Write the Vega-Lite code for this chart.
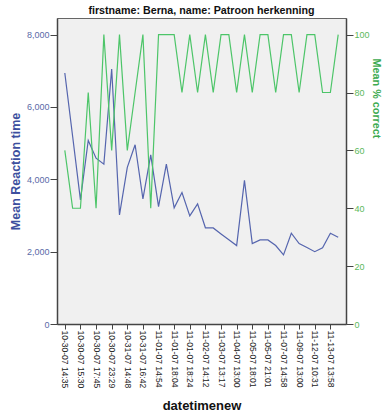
{
  "$schema": "https://vega.github.io/schema/vega-lite/v6.json",
  "autosize": "none",
  "width": 289,
  "height": 306,
  "padding": {"left": 57, "top": 18, "right": 36, "bottom": 94},
  "background": "white",
  "title": {"text": "firstname: Berna, name: Patroon herkenning", "font": "Liberation Sans", "fontSize": 10.7, "fontWeight": "bold", "color": "#111111", "offset": 1},
  "config": {
    "view": {"fill": "#f0f0f0", "stroke": "#666666", "strokeWidth": 1},
    "axis": {"grid": false, "labelFont": "Liberation Sans", "titleFont": "Liberation Sans", "titleFontWeight": "bold", "domainColor": "#444444", "domainWidth": 1.5, "tickColor": "#444444"}
  },
  "data": {"values": [
    {"t": "10-30-07 14:35", "rt": 6940, "pct": 60},
    {"t": "10-30-07 15:02", "rt": 5190, "pct": 40},
    {"t": "10-30-07 15:30", "rt": 3430, "pct": 40},
    {"t": "10-30-07 16:40", "rt": 5075, "pct": 80},
    {"t": "10-30-07 17:45", "rt": 4585, "pct": 40},
    {"t": "10-30-07 21:10", "rt": 4420, "pct": 100},
    {"t": "10-30-07 23:29", "rt": 7050, "pct": 60},
    {"t": "10-31-07 10:15", "rt": 3017, "pct": 100},
    {"t": "10-31-07 14:48", "rt": 4330, "pct": 60},
    {"t": "10-31-07 15:30", "rt": 4955, "pct": 80},
    {"t": "10-31-07 16:42", "rt": 3460, "pct": 100},
    {"t": "11-01-07 10:20", "rt": 4678, "pct": 40},
    {"t": "11-01-07 14:54", "rt": 3247, "pct": 100},
    {"t": "11-01-07 17:30", "rt": 4420, "pct": 100},
    {"t": "11-01-07 18:04", "rt": 3210, "pct": 100},
    {"t": "11-01-07 18:14", "rt": 3635, "pct": 80},
    {"t": "11-01-07 18:24", "rt": 2990, "pct": 100},
    {"t": "11-02-07 10:05", "rt": 3322, "pct": 80},
    {"t": "11-02-07 14:12", "rt": 2660, "pct": 100},
    {"t": "11-02-07 18:30", "rt": 2655, "pct": 80},
    {"t": "11-03-07 13:17", "rt": 2490, "pct": 100},
    {"t": "11-03-07 17:40", "rt": 2330, "pct": 100},
    {"t": "11-04-07 13:00", "rt": 2168, "pct": 80},
    {"t": "11-05-07 13:05", "rt": 3970, "pct": 100},
    {"t": "11-05-07 18:01", "rt": 2225, "pct": 80},
    {"t": "11-05-07 19:30", "rt": 2325, "pct": 100},
    {"t": "11-05-07 21:01", "rt": 2325, "pct": 100},
    {"t": "11-06-07 14:00", "rt": 2170, "pct": 80},
    {"t": "11-07-07 14:58", "rt": 1910, "pct": 100},
    {"t": "11-08-07 13:30", "rt": 2510, "pct": 100},
    {"t": "11-09-07 13:00", "rt": 2225, "pct": 80},
    {"t": "11-10-07 12:00", "rt": 2113, "pct": 100},
    {"t": "11-12-07 10:31", "rt": 2000, "pct": 100},
    {"t": "11-12-07 14:20", "rt": 2110, "pct": 80},
    {"t": "11-13-07 13:58", "rt": 2510, "pct": 80},
    {"t": "11-14-07 13:00", "rt": 2400, "pct": 100}
  ]},
  "encoding": {
    "x": {
      "field": "t", "type": "ordinal", "sort": null,
      "scale": {"type": "point", "padding": 2.5},
      "axis": {
        "title": "datetimenew", "titleFontSize": 13, "titleColor": "#111111",
        "titleY": 81, "titleBaseline": "middle",
        "values": ["10-30-07 14:35", "10-30-07 15:30", "10-30-07 17:45", "10-30-07 23:29", "10-31-07 14:48", "10-31-07 16:42", "11-01-07 14:54", "11-01-07 18:04", "11-01-07 18:24", "11-02-07 14:12", "11-03-07 13:17", "11-04-07 13:00", "11-05-07 18:01", "11-05-07 21:01", "11-07-07 14:58", "11-09-07 13:00", "11-12-07 10:31", "11-13-07 13:58"],
        "labelAngle": 90, "labelAlign": "left", "labelBaseline": "middle",
        "labelFontSize": 8.5, "labelColor": "#222222", "tickSize": 5, "labelPadding": 1,
        "labelOverlap": false
      }
    }
  },
  "layer": [
    {
      "mark": {"type": "line", "color": "#5565ae", "strokeWidth": 1.2},
      "encoding": {
        "y": {
          "field": "rt", "type": "quantitative",
          "scale": {"domain": [0, 8460], "nice": false},
          "axis": {
            "title": "Mean Reaction time", "titleFontSize": 12.5, "titleColor": "#3d4f9e",
            "titleX": -42, "titleY": 153, "titleAngle": -90, "titleAlign": "center", "titleBaseline": "middle",
            "values": [0, 2000, 4000, 6000, 8000], "format": ",d",
            "labelFontSize": 9, "labelColor": "#5a6aa8", "tickSize": 7, "labelPadding": 1
          }
        }
      }
    },
    {
      "mark": {"type": "line", "color": "#4dc569", "strokeWidth": 1.2},
      "encoding": {
        "y": {
          "field": "pct", "type": "quantitative",
          "scale": {"domain": [0, 105.75], "nice": false},
          "axis": {
            "orient": "right",
            "title": "Mean % correct", "titleFontSize": 10.8, "titleColor": "#3daa50",
            "titleX": 29, "titleY": 80, "titleAngle": 90, "titleAlign": "center", "titleBaseline": "middle",
            "values": [0, 20, 40, 60, 80, 100],
            "labelFontSize": 9, "labelColor": "#5cb85c", "tickSize": 7, "labelPadding": 1
          }
        }
      }
    }
  ],
  "resolve": {"scale": {"y": "independent"}}
}
